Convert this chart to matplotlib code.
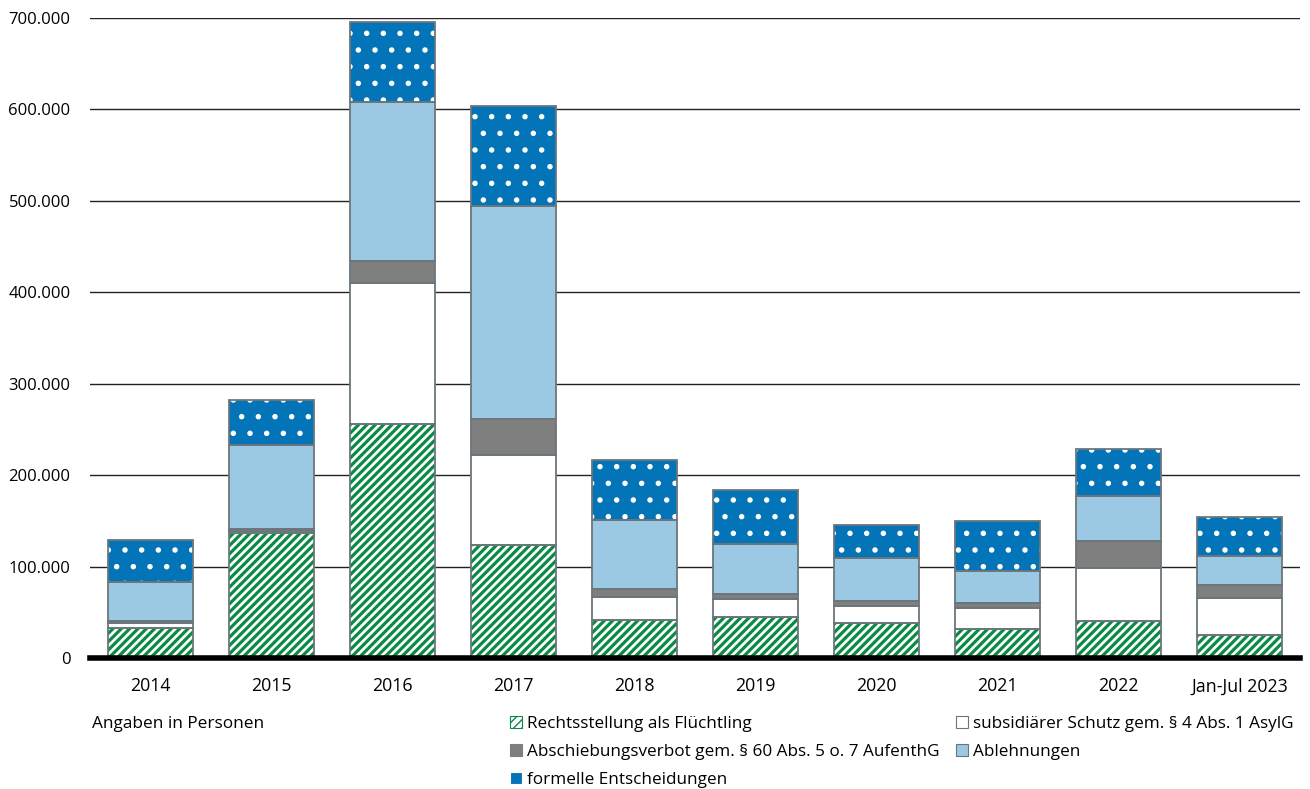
import matplotlib
matplotlib.use("Agg")
import matplotlib.pyplot as plt
from matplotlib.patches import Patch
from matplotlib.ticker import FuncFormatter
import numpy as np

years = ["2014", "2015", "2016", "2017", "2018", "2019", "2020", "2021", "2022", "Jan-Jul 2023"]
fluechtling = [33310, 137136, 256136, 123909, 41368, 45053, 37818, 32065, 40911, 25200]
subsidiaer = [5174, 1707, 153700, 98074, 25055, 19419, 18950, 22236, 57532, 40400]
abschiebung = [2079, 2072, 24084, 39659, 9548, 5857, 5702, 5446, 30020, 13900]
ablehnungen = [43018, 91514, 173846, 232307, 75395, 54034, 46586, 35664, 48485, 31800]
formelle = [45330, 50297, 87967, 109479, 64856, 59523, 36458, 54379, 51778, 42700]

labels = [
    "Rechtsstellung als Flüchtling",
    "subsidiärer Schutz gem. § 4 Abs. 1 AsylG",
    "Abschiebungsverbot gem. § 60 Abs. 5 o. 7 AufenthG",
    "Ablehnungen",
    "formelle Entscheidungen",
]
# (face, hatch colour, hatch, hatch linewidth)
styles = [
    ("white", "#0b8a45", "////", 2.3),
    ("white", "white", "", 1.0),
    ("#7f7f7f", "#7f7f7f", "", 1.0),
    ("#9bc8e2", "#9bc8e2", "", 1.0),
    ("#0474b8", "white", ".", 1.5),
]
outline = "#6b767c"

plt.rcParams["font.family"] = ["Open Sans", "DejaVu Sans"]

fig = plt.figure(figsize=(13.1, 7.89), dpi=100)
ax = fig.add_axes([90 / 1310, 131 / 789, 1210 / 1310, 640 / 789])

x = np.arange(len(years))
width = 0.70
bottom = np.zeros(len(years))
series = [fluechtling, subsidiaer, abschiebung, ablehnungen, formelle]
handles = []
for vals, (face, hcol, hatch, hlw), lab in zip(series, styles, labels):
    vals = np.array(vals, dtype=float)
    with plt.rc_context({"hatch.linewidth": hlw}):
        bars = ax.bar(x, vals, width, bottom=bottom, color=face, edgecolor=hcol,
                      hatch=hatch, linewidth=0, zorder=2)
        h = Patch(facecolor=face, edgecolor=hcol, hatch=hatch, linewidth=0)
    for b in list(bars) + [h]:
        if hasattr(b, "set_hatch_linewidth"):
            b.set_hatch_linewidth(hlw)
    ax.bar(x, vals, width, bottom=bottom, fill=False, edgecolor=outline,
           linewidth=1.3, zorder=3)
    bottom += vals
    handles.append(h)

ax.set_xlim(-0.5, len(years) - 0.5)
ax.set_ylim(0, 700000)
ax.set_yticks(np.arange(0, 700001, 100000))
ax.yaxis.set_major_formatter(FuncFormatter(lambda v, p: f"{int(v):,}".replace(",", ".")))
ax.set_xticks(x, years)
ax.tick_params(axis="both", length=0, labelsize=12)
ax.tick_params(axis="x", pad=14, labelsize=12.8)
ax.tick_params(axis="y", pad=14)
ax.grid(axis="y", color="#222222", linewidth=1.0, zorder=0)
ax.set_axisbelow(True)
for s in ["left", "right", "top"]:
    ax.spines[s].set_visible(False)
ax.spines["bottom"].set_linewidth(4)
ax.spines["bottom"].set_color("black")
ax.spines["bottom"].set_zorder(4)

fig.text(92 / 1310, 1 - 724 / 789, "Angaben in Personen", fontsize=12.4, va="center")

leg_kw = dict(frameon=False, fontsize=12.3, handlelength=0.7, handleheight=0.7,
              handletextpad=0.3, labelspacing=0.69, borderpad=0, borderaxespad=0,
              loc="upper left")
leg1 = fig.legend([handles[0], handles[2], handles[4]], [labels[0], labels[2], labels[4]],
                  bbox_to_anchor=(510 / 1310, 1 - 716 / 789), **leg_kw)
leg2 = fig.legend([handles[1], handles[3]], [labels[1], labels[3]],
                  bbox_to_anchor=(956 / 1310, 1 - 716 / 789), **leg_kw)
for leg in (leg1, leg2):
    for p in leg.get_patches():
        p.set_linewidth(0.8)
for p in leg2.get_patches():
    p.set_edgecolor(outline)

fig.savefig("out.png", dpi=100)
